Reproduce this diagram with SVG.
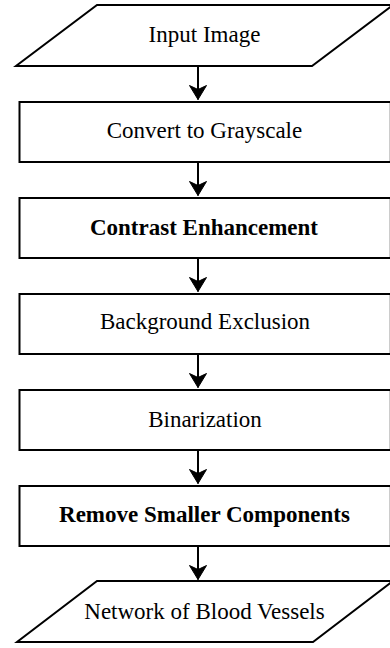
<svg xmlns="http://www.w3.org/2000/svg" width="390" height="648" viewBox="0 0 390 648">
  <style>
    .shape { fill: #ffffff; stroke: #000000; stroke-width: 2; }
    .label { font-family: "Liberation Serif", "Times New Roman", serif; font-size: 23px; fill: #000000; text-anchor: middle; }
    .bold { font-weight: bold; }
    .conn { fill: none; stroke: #000000; stroke-width: 2; }
  </style>
  <defs>
    <marker id="arrow" markerUnits="userSpaceOnUse" orient="auto" markerWidth="20" markerHeight="20" refX="0" refY="0" viewBox="-15 -10 16 20" overflow="visible">
      <path d="M0,0 L-14,-8.5 L-10,0 L-14,8.5 Z" fill="#000000" stroke="#000000" stroke-width="1" stroke-linejoin="miter"/>
    </marker>
  </defs>
  <rect width="390" height="648" fill="#ffffff"/>

  <g id="connectors">
    <path class="conn" d="M198,66 V99.5" marker-end="url(#arrow)"/>
    <path class="conn" d="M198,162 V195.5" marker-end="url(#arrow)"/>
    <path class="conn" d="M198,258 V291.5" marker-end="url(#arrow)"/>
    <path class="conn" d="M198,354 V387.5" marker-end="url(#arrow)"/>
    <path class="conn" d="M198,450 V483.5" marker-end="url(#arrow)"/>
    <path class="conn" d="M198,546 V579.5" marker-end="url(#arrow)"/>
  </g>

  <g id="input-image">
    <polygon class="shape" points="97,5 393,5 312,66 16,66"/>
    <text class="label" x="204.5" y="42">Input Image</text>
  </g>

  <g id="convert-grayscale">
    <rect class="shape" x="19.5" y="102" width="371.3" height="60"/>
    <text class="label" x="204.5" y="138">Convert to Grayscale</text>
  </g>

  <g id="contrast-enhancement">
    <rect class="shape" x="19.5" y="198" width="371.3" height="60"/>
    <text class="label bold" x="204" y="234.5">Contrast Enhancement</text>
  </g>

  <g id="background-exclusion">
    <rect class="shape" x="19.5" y="294" width="371.3" height="60"/>
    <text class="label" x="205" y="329">Background Exclusion</text>
  </g>

  <g id="binarization">
    <rect class="shape" x="19.5" y="390" width="371.3" height="60"/>
    <text class="label" x="205" y="426.5">Binarization</text>
  </g>

  <g id="remove-smaller-components">
    <rect class="shape" x="19.5" y="486" width="371.3" height="60"/>
    <text class="label bold" x="204.5" y="522">Remove Smaller Components</text>
  </g>

  <g id="network-blood-vessels">
    <polygon class="shape" points="97,581 393,581 313,642 17,642"/>
    <text class="label" x="204.5" y="618.5">Network of Blood Vessels</text>
  </g>
</svg>
